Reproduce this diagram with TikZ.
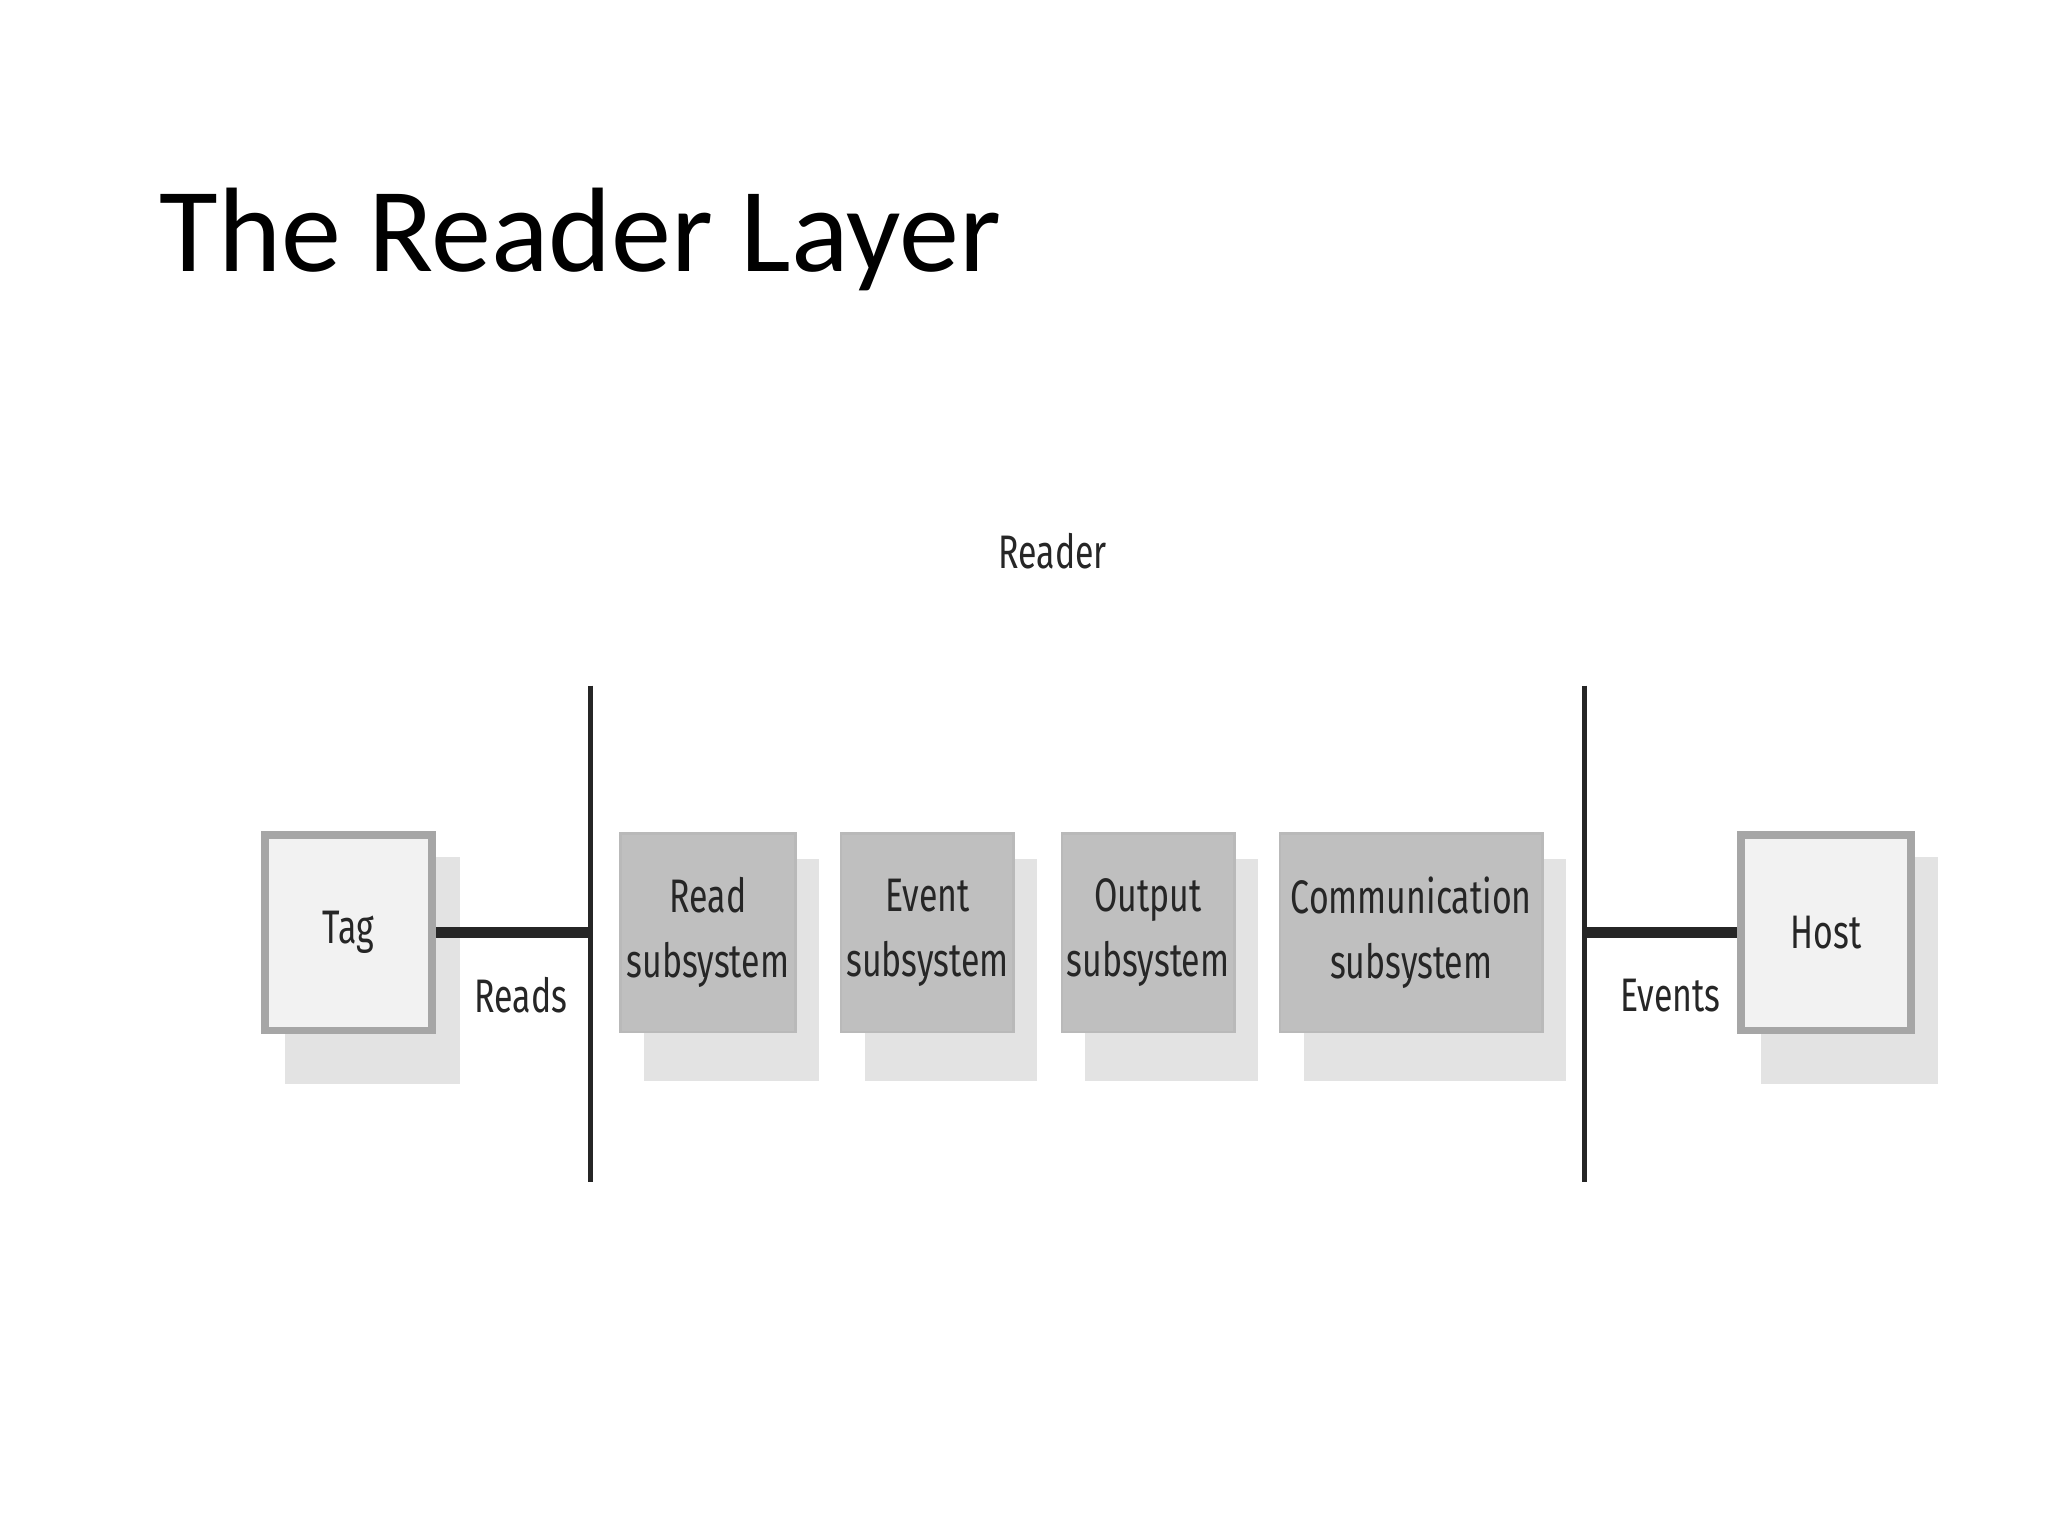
\documentclass[tikz,border=0pt]{standalone}
\usepackage{fontspec}
\setmainfont{Carlito}
\newfontfamily\cond[FakeStretch=0.72]{Fira Sans}
\begin{document}
\begin{tikzpicture}[x=1pt,y=-1pt,
  lbl/.style={font=\cond\fontsize{36}{50}\selectfont,align=center,text=black!85},
  shadow/.style={fill=gray!22,draw=none},
  sub/.style={fill=gray!50,draw=gray!55,line width=2pt},
  endbox/.style={fill=gray!10,draw=gray!70,line width=6pt},
  bar/.style={line width=4pt,black!85},
  link/.style={line width=8pt,black!85}]
\useasboundingbox (0,0) rectangle (1568,1176);
\fill[white] (0,0) rectangle (1568,1176);
\node[anchor=base west,font=\fontsize{92}{100}\selectfont,inner sep=0] (title) at (122,208) {The Reader Layer};
\node[lbl] (reader) at (806,422) {Reader};
\coordinate (l1) at (452,525); \coordinate (l2) at (452,905);
\coordinate (r1) at (1213,525); \coordinate (r2) at (1213,905);
\draw[bar] (l1) -- (l2);
\draw[bar] (r1) -- (r2);
% shadows
\foreach \a/\b/\c/\d in {200/636/334/792,1330/636/1466/792,475/638/609/790,644/638/776/790,813/638/945/790,980/638/1181/790}
  \fill[shadow] (\a+18,\b+20) rectangle (\c+18,\d+38);
\node[endbox,minimum width=128pt,minimum height=150pt] (tag) at (267,714) {};
\node[lbl] at (tag) {Tag};
\node[endbox,minimum width=130pt,minimum height=150pt] (host) at (1398,714) {};
\node[lbl] at (host) {Host};
\node[sub,minimum width=134pt,minimum height=152pt] (s1) at (542,714) {};
\node[sub,minimum width=132pt,minimum height=152pt] (s2) at (710,714) {};
\node[sub,minimum width=132pt,minimum height=152pt] (s3) at (879,714) {};
\node[sub,minimum width=201pt,minimum height=152pt] (s4) at (1080.5,714) {};
\node[lbl] at (s1) {Read\\subsystem};
\node[lbl] at (s2) {Event\\subsystem};
\node[lbl] at (s3) {Output\\subsystem};
\node[lbl] at (s4) {Communication\\subsystem};
\draw[link] (tag.east) -- (tag.east -| l1);
\draw[link] (host.west -| r1) -- (host.west);
\node[lbl] (reads) at (399,762) {Reads};
\node[lbl] (events) at (1279,762) {Events};
\end{tikzpicture}
\end{document}
